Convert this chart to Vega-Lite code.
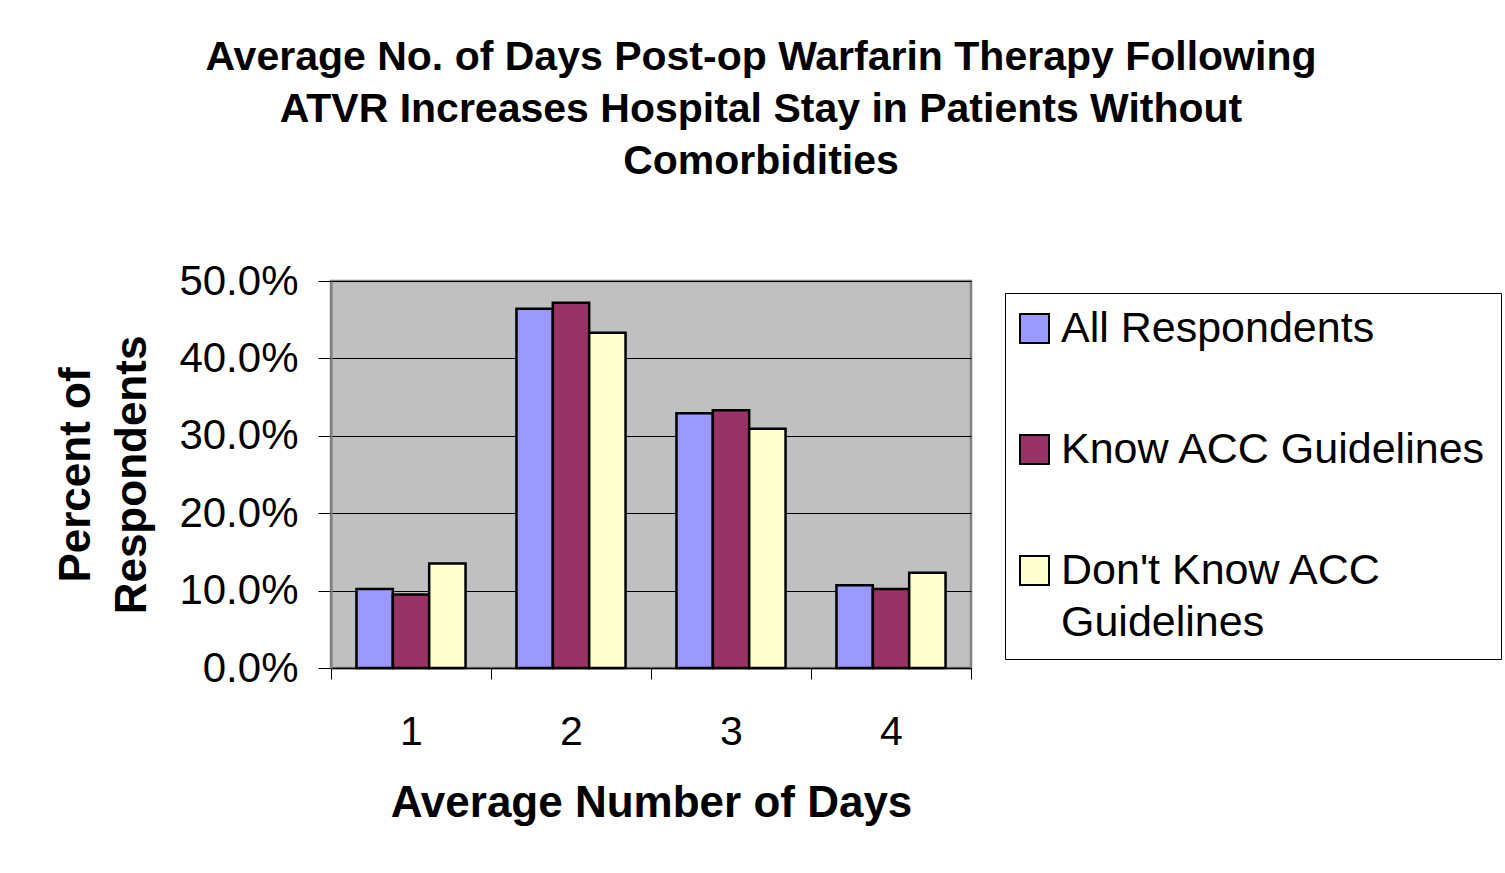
{
  "$schema": "https://vega.github.io/schema/vega-lite/v6.json",
  "width": 640,
  "height": 387,
  "autosize": {"type": "none"},
  "padding": {"left": 331, "top": 281, "right": 534, "bottom": 205},
  "background": "white",
  "config": {
    "font": "Liberation Sans",
    "view": {"fill": "#C0C0C0", "stroke": "#808080", "strokeWidth": 2.5},
    "style": {"guide-label": {"lineHeight": 52}}
  },
  "title": {
    "text": ["Average No. of Days Post-op Warfarin Therapy Following", "ATVR Increases Hospital Stay in Patients Without", "Comorbidities"],
    "fontSize": 41,
    "fontWeight": "bold",
    "lineHeight": 52,
    "color": "#000",
    "anchor": "middle",
    "frame": "group",
    "dx": 110,
    "offset": 77
  },
  "data": {
    "values": [
      {"days": "1", "group": "All Respondents", "value": 0.102},
      {"days": "1", "group": "Know ACC Guidelines", "value": 0.095},
      {"days": "1", "group": "Don't Know ACC Guidelines", "value": 0.135},
      {"days": "2", "group": "All Respondents", "value": 0.464},
      {"days": "2", "group": "Know ACC Guidelines", "value": 0.472},
      {"days": "2", "group": "Don't Know ACC Guidelines", "value": 0.433},
      {"days": "3", "group": "All Respondents", "value": 0.329},
      {"days": "3", "group": "Know ACC Guidelines", "value": 0.333},
      {"days": "3", "group": "Don't Know ACC Guidelines", "value": 0.309},
      {"days": "4", "group": "All Respondents", "value": 0.107},
      {"days": "4", "group": "Know ACC Guidelines", "value": 0.102},
      {"days": "4", "group": "Don't Know ACC Guidelines", "value": 0.123}
    ]
  },
  "mark": {"type": "bar", "stroke": "#000", "strokeWidth": 2.5},
  "encoding": {
    "x": {
      "field": "days",
      "type": "nominal",
      "scale": {"paddingInner": 0, "paddingOuter": 0},
      "axis": {
        "title": "Average Number of Days",
        "labelAngle": 0,
        "labelFontSize": 41,
        "labelColor": "#000",
        "tickBand": "extent",
        "tickSize": 11,
        "tickColor": "#000",
        "domainColor": "#000",
        "domainWidth": 1.5,
        "labelPadding": 33,
        "titleFontSize": 44,
        "titleFontWeight": "bold",
        "titleColor": "#000",
        "titlePadding": 29,
        "grid": false
      }
    },
    "xOffset": {
      "field": "group",
      "type": "nominal",
      "scale": {"domain": ["All Respondents", "Know ACC Guidelines", "Don't Know ACC Guidelines"], "paddingInner": 0, "paddingOuter": 0.7}
    },
    "y": {
      "field": "value",
      "type": "quantitative",
      "scale": {"domain": [0, 0.5], "nice": false},
      "axis": {
        "title": ["Percent of", "Respondents"],
        "format": ".1%",
        "values": [0, 0.1, 0.2, 0.3, 0.4, 0.5],
        "labelFontSize": 42,
        "labelColor": "#000",
        "labelPadding": 20,
        "tickSize": 13,
        "tickColor": "#000",
        "domainColor": "#808080",
        "domainWidth": 2,
        "gridColor": "#000",
        "gridWidth": 1,
        "gridOpacity": 1,
        "titleFontSize": 44,
        "titleFontWeight": "bold",
        "titleColor": "#000",
        "titleLineHeight": 56,
        "titlePadding": 24
      }
    },
    "color": {
      "field": "group",
      "type": "nominal",
      "scale": {
        "domain": ["All Respondents", "Know ACC Guidelines", "Don't Know ACC Guidelines"],
        "range": ["#9999FF", "#993366", "#FFFFCC"]
      },
      "legend": {
        "title": null,
        "orient": "none",
        "legendX": 674,
        "legendY": 12,
        "padding": 14,
        "strokeColor": "#000",
        "symbolType": "square",
        "symbolSize": 841,
        "symbolOffset": -6,
        "symbolStrokeColor": "#000",
        "symbolStrokeWidth": 2,
        "labelFontSize": 43,
        "labelColor": "#000",
        "labelOffset": 5,
        "labelLimit": 0,
        "rowPadding": 77,
        "labelExpr": "length(datum.label) > 22 ? [slice(datum.label, 0, 14), 'Guidelines'] : datum.label"
      }
    }
  }
}
